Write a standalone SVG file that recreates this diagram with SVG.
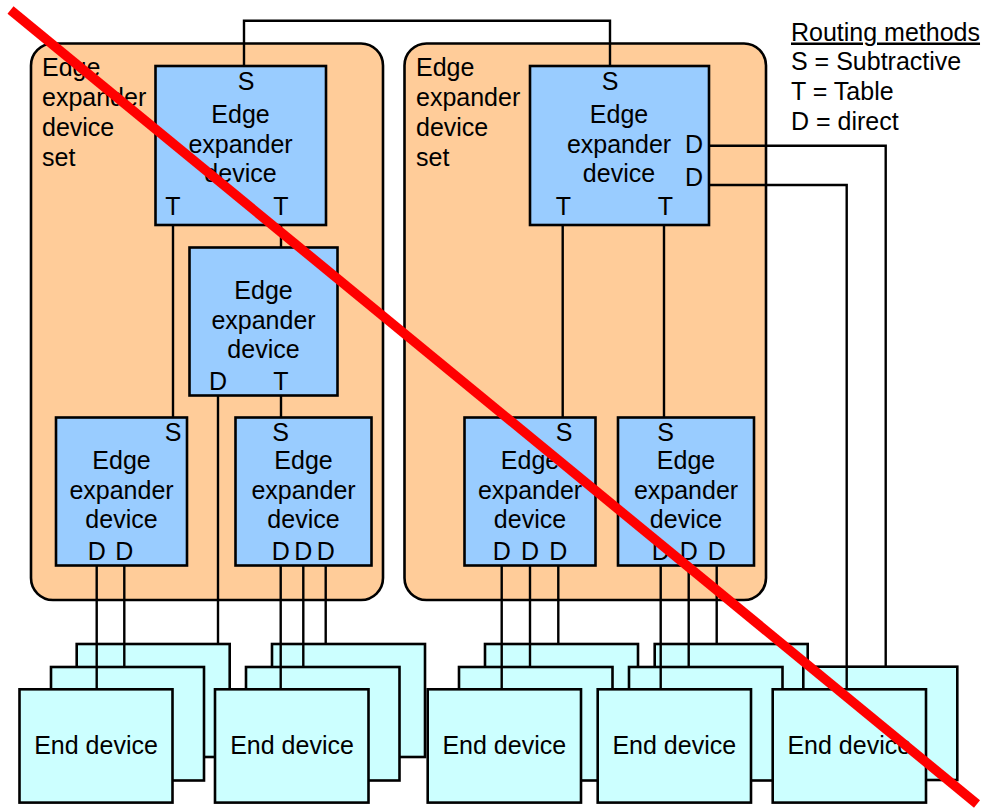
<svg xmlns="http://www.w3.org/2000/svg" width="982" height="809" viewBox="0 0 982 809">
<style>
text{font-family:"Liberation Sans",Arial,sans-serif;font-size:25px;fill:#000}
.m{text-anchor:middle}
.set{fill:#FFCC99;stroke:#000;stroke-width:2.6}
.eed{fill:#99CCFF;stroke:#000;stroke-width:2.6}
.end{fill:#CCFFFF;stroke:#000;stroke-width:2.6}
.ln{fill:none;stroke:#000;stroke-width:2.4}
</style>
<rect width="982" height="809" fill="#fff"/>
<g id="set-left">
<rect class="set" x="31" y="43.5" width="352" height="556.5" rx="22"/>
<text x="42" y="76">Edge</text><text x="42" y="106">expander</text><text x="42" y="136">device</text><text x="42" y="166">set</text>
</g>
<g id="set-right">
<rect class="set" x="404.5" y="43.5" width="361.5" height="556.5" rx="22"/>
<text x="416" y="76">Edge</text><text x="416" y="106">expander</text><text x="416" y="136">device</text><text x="416" y="166">set</text>
</g>
<g id="eed-top-left">
<rect class="eed" x="155.5" y="66" width="170.5" height="159"/>
<text class="m" x="246" y="90">S</text>
<text class="m" x="240.5" y="123">Edge</text><text class="m" x="240.5" y="152.5">expander</text><text class="m" x="240.5" y="182">device</text>
<text class="m" x="173" y="215">T</text><text class="m" x="281" y="215">T</text>
</g>
<g id="eed-mid-left">
<rect class="eed" x="189.5" y="247.5" width="148" height="148"/>
<text class="m" x="263.5" y="299">Edge</text><text class="m" x="263.5" y="329">expander</text><text class="m" x="263.5" y="358">device</text>
<text class="m" x="218" y="390">D</text><text class="m" x="281" y="390">T</text>
</g>
<g id="eed-low-left-a">
<rect class="eed" x="56" y="417.5" width="131" height="148"/>
<text class="m" x="173" y="441">S</text>
<text class="m" x="121.5" y="469">Edge</text><text class="m" x="121.5" y="499">expander</text><text class="m" x="121.5" y="528">device</text>
<text class="m" x="96.7" y="560">D</text><text class="m" x="124.3" y="560">D</text>
</g>
<g id="eed-low-left-b">
<rect class="eed" x="235.5" y="417.5" width="136" height="148"/>
<text class="m" x="280.7" y="441">S</text>
<text class="m" x="303.5" y="469">Edge</text><text class="m" x="303.5" y="499">expander</text><text class="m" x="303.5" y="528">device</text>
<text class="m" x="280.7" y="560">D</text><text class="m" x="303.3" y="560">D</text><text class="m" x="325.7" y="560">D</text>
</g>
<g id="eed-top-right">
<rect class="eed" x="530" y="66" width="179" height="159"/>
<text class="m" x="610" y="90">S</text>
<text class="m" x="619" y="123">Edge</text><text class="m" x="619" y="152.5">expander</text><text class="m" x="619" y="182">device</text>
<text class="m" x="694" y="153">D</text><text class="m" x="694" y="186">D</text>
<text class="m" x="563.5" y="215">T</text><text class="m" x="665.5" y="215">T</text>
</g>
<g id="eed-low-right-a">
<rect class="eed" x="464.5" y="417.5" width="131" height="148"/>
<text class="m" x="564" y="441">S</text>
<text class="m" x="530" y="469">Edge</text><text class="m" x="530" y="499">expander</text><text class="m" x="530" y="528">device</text>
<text class="m" x="501.7" y="560">D</text><text class="m" x="530" y="560">D</text><text class="m" x="558.3" y="560">D</text>
</g>
<g id="eed-low-right-b">
<rect class="eed" x="618" y="417.5" width="136" height="148"/>
<text class="m" x="665.7" y="441">S</text>
<text class="m" x="686" y="469">Edge</text><text class="m" x="686" y="499">expander</text><text class="m" x="686" y="528">device</text>
<text class="m" x="660.7" y="560">D</text><text class="m" x="688.7" y="560">D</text><text class="m" x="716.7" y="560">D</text>
</g>
<g id="end-1">
<rect class="end" x="76.7" y="644" width="153" height="113"/>
<rect class="end" x="51" y="667" width="153" height="113.5"/>
<rect class="end" x="19.5" y="689.3" width="153" height="113.3"/>
<text class="m" x="96" y="754">End device</text>
</g>
<g id="end-2">
<rect class="end" x="272" y="644" width="153" height="113"/>
<rect class="end" x="246" y="667" width="153.5" height="113.5"/>
<rect class="end" x="215" y="689.3" width="153.5" height="113.3"/>
<text class="m" x="292" y="754">End device</text>
</g>
<g id="end-3">
<rect class="end" x="485" y="644" width="153" height="113"/>
<rect class="end" x="459" y="667" width="153.5" height="113.5"/>
<rect class="end" x="427.7" y="689.3" width="153.3" height="113.3"/>
<text class="m" x="504.3" y="754">End device</text>
</g>
<g id="end-4">
<rect class="end" x="654.7" y="644" width="153" height="113"/>
<rect class="end" x="629" y="667" width="153.5" height="113.5"/>
<rect class="end" x="597.7" y="689.3" width="153.3" height="113.3"/>
<text class="m" x="674.3" y="754">End device</text>
</g>
<g id="end-5">
<rect class="end" x="803.3" y="666.7" width="154" height="113.3"/>
<rect class="end" x="772.7" y="689.3" width="153.3" height="113.3"/>
<text class="m" x="849.3" y="754">End device</text>
</g>
<g id="connectors" class="ln">
<path class="ln" d="M244,66V20.7H610V66"/>
<path class="ln" d="M173,225V417.5"/>
<path class="ln" d="M281,225V247.5"/>
<path class="ln" d="M281,395.5V417.5"/>
<path class="ln" d="M218,395.5V644"/>
<path class="ln" d="M96.7,565.5V689.3M124.3,565.5V667"/>
<path class="ln" d="M280.7,565.5V689.3M303.3,565.5V667M325.7,565.5V644"/>
<path class="ln" d="M562.7,225V417.5M664,225V417.5"/>
<path class="ln" d="M501.7,565.5V689.3M530,565.5V667M558.3,565.5V644"/>
<path class="ln" d="M660.7,565.5V689.3M688.7,565.5V667M716.7,565.5V644"/>
<path class="ln" d="M709,145.7H885.7V666.7"/>
<path class="ln" d="M709,185H846.7V689.3"/>
</g>
<g id="legend">
<text x="791" y="40.5" text-decoration="underline">Routing methods</text>
<text x="791" y="70.3">S = Subtractive</text>
<text x="791" y="100">T = Table</text>
<text x="791" y="129.7">D = direct</text>
</g>
<line x1="10.5" y1="10" x2="977" y2="804" stroke="#FF0000" stroke-width="9.5"/>
</svg>
